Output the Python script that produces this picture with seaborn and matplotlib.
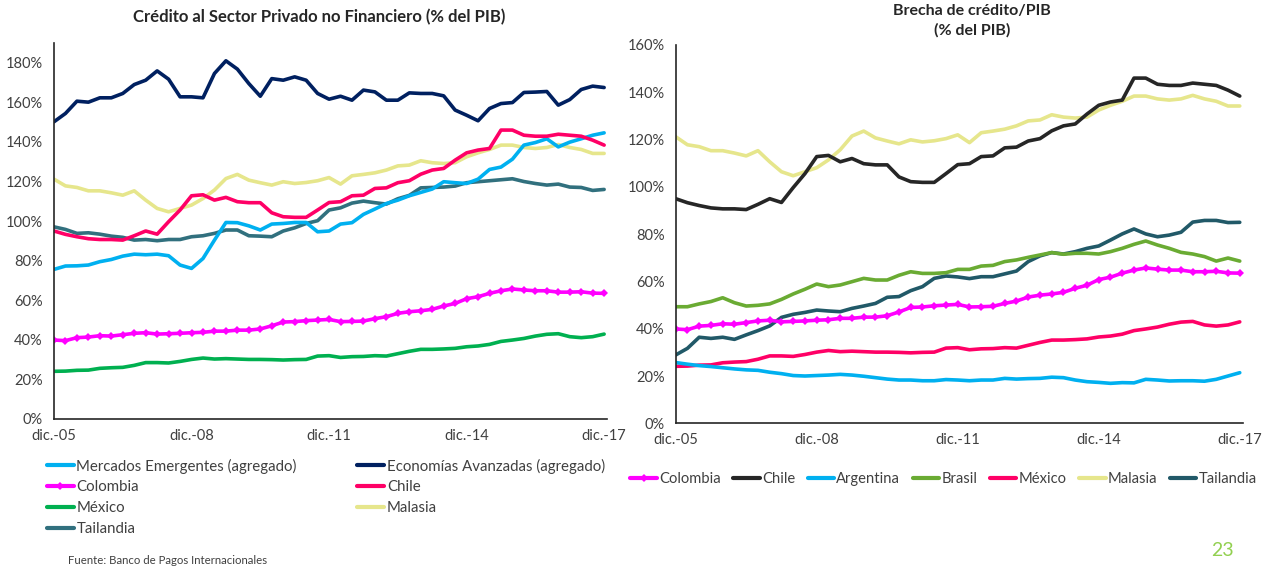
import numpy as np
import pandas as pd
import matplotlib
matplotlib.use("Agg")
import matplotlib.pyplot as plt
from matplotlib.lines import Line2D
import seaborn as sns

# quarterly series, dic.-05 .. dic.-17 (49 quarters)
quarters = pd.period_range("2005Q4", "2017Q4", freq="Q")
tick_labels = ["dic.-05", "dic.-08", "dic.-11", "dic.-14", "dic.-17"]

emergentes = [75.6, 77.3, 77.4, 77.8, 79.5, 80.6, 82.3, 83.3, 83.0, 83.3, 82.5, 77.8, 76.1,
              81.1, 90.4, 99.3, 99.2, 97.6, 95.5, 98.5, 98.8, 99.3, 99.3, 94.6, 95.0,
              98.5, 99.2, 103.4, 106.1, 108.9, 110.6, 112.8, 114.5, 116.2, 119.9, 119.4, 119.0,
              121.2, 126.1, 127.3, 131.3, 138.4, 139.7, 141.6, 137.5, 139.9, 141.6, 143.4, 144.6]
avanzadas = [150.2, 154.4, 160.6, 160.1, 162.3, 162.3, 164.5, 169.0, 171.2, 175.9, 171.7, 162.8, 162.8,
             162.3, 174.6, 181.0, 176.8, 169.5, 163.1, 172.0, 171.2, 172.9, 171.2, 164.5, 161.6,
             163.1, 161.1, 166.2, 165.3, 161.1, 161.1, 164.8, 164.5, 164.5, 163.3, 156.1, 153.5,
             150.7, 156.9, 159.4, 159.9, 165.0, 165.2, 165.5, 158.6, 161.4, 166.5, 168.2, 167.5]
colombia = [39.9, 39.6, 41.1, 41.4, 42.1, 41.9, 42.6, 43.3, 43.6, 42.9, 43.1, 43.3, 43.6,
            43.8, 44.4, 44.4, 44.9, 44.9, 45.5, 47.1, 49.0, 49.2, 49.7, 50.0, 50.3,
            49.2, 49.3, 49.5, 50.7, 51.7, 53.4, 54.2, 54.7, 55.4, 57.1, 58.4, 60.8,
            61.8, 63.5, 64.8, 65.7, 65.2, 64.8, 64.8, 64.1, 64.1, 64.3, 63.6, 63.5]
chile = [95.0, 93.3, 92.1, 91.1, 90.7, 90.7, 90.4, 92.6, 95.0, 93.4, 99.7, 105.6, 112.8,
         113.3, 110.6, 112.0, 109.8, 109.3, 109.3, 104.2, 102.2, 101.9, 101.9, 105.6, 109.4,
         109.8, 112.8, 113.1, 116.5, 116.8, 119.4, 120.4, 123.7, 125.8, 126.6, 130.8, 134.5,
         135.9, 136.7, 146.0, 146.0, 143.4, 142.9, 142.9, 143.9, 143.4, 142.9, 140.9, 138.4]
mexico = [24.1, 24.2, 24.6, 24.7, 25.6, 25.9, 26.1, 27.1, 28.5, 28.5, 28.3, 29.1, 30.1,
          30.8, 30.3, 30.5, 30.3, 30.1, 30.1, 30.0, 29.8, 30.0, 30.1, 31.8, 32.0,
          31.1, 31.5, 31.6, 32.0, 31.8, 33.0, 34.2, 35.2, 35.2, 35.4, 35.7, 36.5,
          36.9, 37.7, 39.2, 39.9, 40.7, 41.9, 42.8, 43.1, 41.6, 41.1, 41.6, 42.9]
malasia = [121.2, 117.8, 117.0, 115.3, 115.3, 114.3, 113.1, 115.3, 110.6, 106.4, 104.7, 106.4, 108.1,
           111.4, 115.7, 121.5, 123.6, 120.7, 119.4, 118.2, 119.9, 119.0, 119.5, 120.4, 122.0,
           118.7, 122.9, 123.6, 124.4, 125.8, 127.9, 128.3, 130.5, 129.5, 129.1, 129.5, 132.5,
           134.5, 136.2, 138.4, 138.4, 137.2, 136.7, 137.2, 138.7, 137.2, 136.2, 134.2, 134.2]
tailandia_credito = [97.1, 95.8, 93.8, 94.1, 93.4, 92.4, 91.8, 90.4, 90.7, 90.1, 90.7, 90.7, 92.1,
                     92.6, 93.8, 95.5, 95.5, 92.6, 92.4, 92.1, 95.0, 96.6, 98.8, 100.2, 105.6,
                     106.7, 109.1, 110.1, 109.3, 108.6, 111.3, 113.0, 116.8, 117.0, 117.2, 117.7, 119.4,
                     119.9, 120.4, 120.9, 121.4, 120.0, 119.0, 118.2, 118.7, 117.2, 117.0, 115.5, 116.0]

argentina = [25.7, 25.0, 24.4, 24.0, 23.5, 23.0, 22.6, 22.4, 21.6, 21.0, 20.2, 20.0, 20.2,
             20.4, 20.7, 20.4, 19.9, 19.3, 18.7, 18.3, 18.3, 18.0, 18.0, 18.5, 18.3,
             18.0, 18.3, 18.3, 19.0, 18.7, 18.9, 19.0, 19.5, 19.3, 18.3, 17.6, 17.3,
             16.9, 17.2, 17.1, 18.6, 18.3, 17.9, 18.0, 18.0, 17.8, 18.6, 20.0, 21.4]
brasil = [49.3, 49.3, 50.5, 51.5, 53.1, 51.0, 49.6, 49.9, 50.5, 52.4, 54.7, 56.7, 58.9,
          57.8, 58.5, 59.9, 61.3, 60.6, 60.6, 62.6, 64.1, 63.4, 63.4, 63.7, 65.1,
          65.1, 66.5, 66.8, 68.4, 69.1, 70.2, 71.2, 72.2, 71.5, 71.9, 71.9, 71.6,
          72.6, 74.0, 75.7, 77.1, 75.4, 74.0, 72.3, 71.6, 70.5, 68.6, 69.9, 68.6]
tailandia_brecha = [28.9, 31.7, 36.4, 35.9, 36.4, 35.5, 37.4, 39.2, 41.2, 44.8, 46.1, 46.9, 47.9,
                    47.5, 47.2, 48.6, 49.6, 50.7, 53.3, 53.6, 56.1, 57.8, 61.3, 62.3, 61.9,
                    61.2, 62.0, 62.0, 63.2, 64.4, 68.4, 70.8, 72.2, 71.6, 72.6, 74.0, 75.0,
                    77.5, 80.1, 82.2, 80.1, 78.9, 79.6, 80.8, 85.1, 85.8, 85.8, 84.9, 85.0]

TEXT = "#404040"
AXIS = "#262626"

sns.set_style("white")
plt.rcParams["font.family"] = ["Lato", "DejaVu Sans"]

fig = plt.figure(figsize=(12.7, 5.67), dpi=100)
ax1 = fig.add_axes([54 / 1270, 148 / 567, 553 / 1270, 376 / 567])
ax2 = fig.add_axes([675.7 / 1270, 143.7 / 567, 567 / 1270, 378.3 / 567])

x = np.arange(len(quarters))


def draw(ax, values, color, label, lw=2.6, marker=None):
    sns.lineplot(x=x, y=values, ax=ax, color=color, linewidth=lw, label=label,
                 marker=marker, markersize=4, markeredgewidth=0, legend=False)


left_series = [
    (emergentes, "#00B0F0", "Mercados Emergentes (agregado)", None),
    (colombia, "#FF00FF", "Colombia", "D"),
    (mexico, "#00B050", "México", None),
    (tailandia_credito, "#31707E", "Tailandia", None),
    (avanzadas, "#002060", "Economías Avanzadas (agregado)", None),
    (chile, "#FF0066", "Chile", None),
    (malasia, "#E6E68C", "Malasia", None),
]
draw_order_left = [6, 3, 0, 5, 2, 1, 4]
for i in draw_order_left:
    vals, col, lab, mk = left_series[i]
    draw(ax1, vals, col, lab, marker=mk)

right_series = [
    (colombia, "#FF00FF", "Colombia", "D"),
    (chile, "#262626", "Chile", None),
    (argentina, "#00B0F0", "Argentina", None),
    (brasil, "#6AAB33", "Brasil", None),
    (mexico, "#FF0066", "México", None),
    (malasia, "#E6E68C", "Malasia", None),
    (tailandia_brecha, "#215968", "Tailandia", None),
]
for vals, col, lab, mk in right_series[::-1]:
    draw(ax2, vals, col, lab, marker=mk)

for ax, top, ymax_tick in [(ax1, 190, 180), (ax2, 160, 160)]:
    ax.set_xlim(0, 48.25)
    ax.set_ylim(0, top)
    ax.set_yticks(np.arange(0, ymax_tick + 1, 20))
    ax.set_yticklabels([f"{v}%" for v in range(0, ymax_tick + 1, 20)])
    ax.set_xticks([0, 12, 24, 36, 48])
    ax.set_xticklabels(tick_labels)
    ax.set_xlabel("")
    ax.set_ylabel("")
    for s in ["top", "right"]:
        ax.spines[s].set_visible(False)
    for s in ["left", "bottom"]:
        ax.spines[s].set_color(AXIS)
        ax.spines[s].set_linewidth(1.2)
    ax.tick_params(axis="y", direction="in", length=4, color="#808080",
                   labelsize=10.5, labelcolor=TEXT, pad=8)
    ax.tick_params(axis="x", direction="out", length=4, color="#808080",
                   labelsize=10.5, labelcolor=TEXT, pad=3)
    ax.grid(False)
    ax.set_facecolor("white")

fig.text(319 / 1270, 1 - 17 / 567, "Crédito al Sector Privado no Financiero (% del PIB)",
         ha="center", va="center", fontsize=12, fontweight="bold", color="#262626")
fig.text(972 / 1270, 1 - 21 / 567, "Brecha de crédito/PIB\n(% del PIB)",
         ha="center", va="center", fontsize=11.5, fontweight="bold", color="#262626",
         linespacing=1.4)


def handle(col, mk):
    return Line2D([], [], color=col, linewidth=3, marker=mk, markersize=4,
                  markeredgewidth=0)


h1 = [handle(c, m) for _, c, _, m in left_series]
l1 = [lab for _, _, lab, _ in left_series]
fig.legend(h1, l1, loc="upper left", bbox_to_anchor=(39 / 1270, 1 - 451 / 567),
           ncol=2, frameon=False, fontsize=10.8, handlelength=1.8, handletextpad=0.2,
           columnspacing=4.0, labelspacing=0.45, borderpad=0, labelcolor=TEXT)

h2 = [handle(c, m) for _, c, _, m in right_series]
l2 = [lab for _, _, lab, _ in right_series]
fig.legend(h2, l2, loc="center left", bbox_to_anchor=(623 / 1270, 1 - 479 / 567),
           ncol=7, frameon=False, fontsize=10.6, handlelength=1.8, handletextpad=0.15,
           columnspacing=0.85, borderpad=0, labelcolor=TEXT)

fig.text(68 / 1270, 1 - 560 / 567, "Fuente: Banco de Pagos Internacionales",
         ha="left", va="center", fontsize=8.2, color=TEXT)
fig.text(1222 / 1270, 1 - 550 / 567, "23", ha="center", va="center",
         fontsize=14, color="#92D050")

fig.savefig("out.png", dpi=100, facecolor="white")
